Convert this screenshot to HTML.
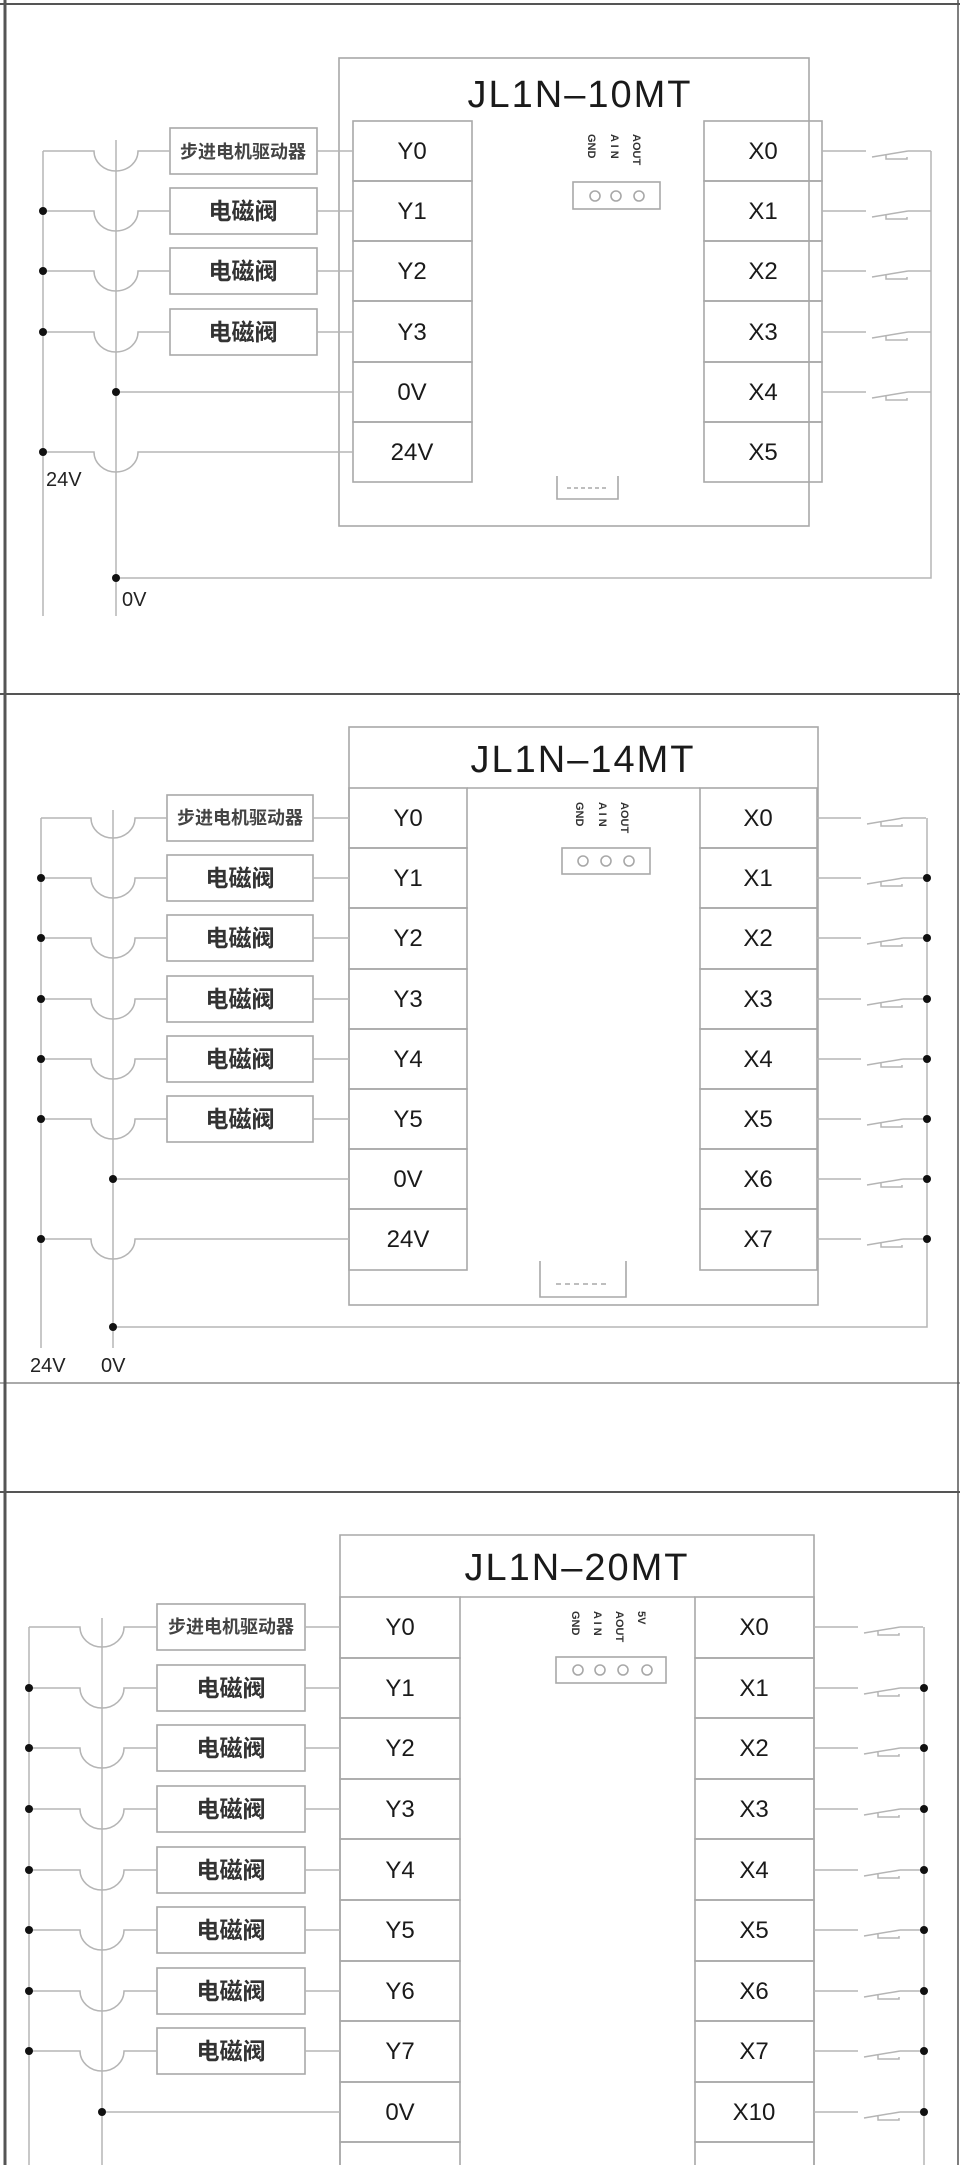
<!DOCTYPE html>
<html><head><meta charset="utf-8"><style>
html,body{margin:0;padding:0;background:#fff}
svg{display:block}
.w{stroke:#b5b5b5;stroke-width:1.5;fill:none}
.b{stroke:#a8a8a8;stroke-width:1.6;fill:none}
.k{stroke:#555;fill:none}
text{font-family:"Liberation Sans","Noto Sans CJK SC",sans-serif;fill:#1a1a1a}
.t{font-size:24px;text-anchor:middle}
.ti{font-size:38px;text-anchor:middle;letter-spacing:2px}
.c{font-size:23px;font-weight:bold;text-anchor:middle;fill:#333}
.cs{font-size:18px;font-weight:bold;text-anchor:middle;fill:#444}
.l{font-size:20px;fill:#222}
.r{font-size:11px;font-weight:bold;fill:#333}
</style></head><body>
<svg width="960" height="2165" viewBox="0 0 960 2165" xmlns="http://www.w3.org/2000/svg">
<defs>
<g id="sw"><path class="w" d="M0 0H44M50 6L86 0M64 4V8H85V6M86 0H109"/></g>
</defs>
<path class="k" stroke-width="3" d="M5 0V2165"/>
<path class="k" stroke-width="2" d="M0 4H960M0 694H960M0 1492H960"/>
<path class="k" stroke-width="1" d="M0 1383H960"/>
<path class="k" stroke-width="1.5" d="M958 0V2165"/>

<!-- ============ SECTION 1 ============ -->
<rect class="b" x="339" y="58" width="470" height="468"/>
<text class="ti" x="580" y="107">JL1N–10MT</text>
<g class="b">
<rect x="353" y="121" width="119" height="60"/><rect x="353" y="181" width="119" height="60"/><rect x="353" y="241" width="119" height="60"/><rect x="353" y="301" width="119" height="61"/><rect x="353" y="362" width="119" height="60"/><rect x="353" y="422" width="119" height="60"/>
<rect x="704" y="121" width="118" height="60"/><rect x="704" y="181" width="118" height="60"/><rect x="704" y="241" width="118" height="60"/><rect x="704" y="301" width="118" height="61"/><rect x="704" y="362" width="118" height="60"/><rect x="704" y="422" width="118" height="60"/>
</g>
<text class="t" x="412" y="159">Y0</text><text class="t" x="412" y="219">Y1</text><text class="t" x="412" y="279">Y2</text><text class="t" x="412" y="340">Y3</text><text class="t" x="412" y="400">0V</text><text class="t" x="412" y="460">24V</text>
<text class="t" x="763" y="159">X0</text><text class="t" x="763" y="219">X1</text><text class="t" x="763" y="279">X2</text><text class="t" x="763" y="340">X3</text><text class="t" x="763" y="400">X4</text><text class="t" x="763" y="460">X5</text>
<rect class="b" x="573" y="182" width="87" height="27"/>
<g class="b" stroke-width="1"><circle cx="595" cy="196" r="5"/><circle cx="616" cy="196" r="5"/><circle cx="639" cy="196" r="5"/></g>
<text class="r" transform="translate(588,134) rotate(90)">GND</text>
<text class="r" transform="translate(611,134) rotate(90)">A I N</text>
<text class="r" transform="translate(633,134) rotate(90)">AOUT</text>
<path class="b" d="M567 488H607" stroke-dasharray="4 3"/>
<path class="b" d="M557 476V499H618V476"/>
<g class="b"><rect x="170" y="128" width="147" height="46"/><rect x="170" y="188" width="147" height="46"/><rect x="170" y="248" width="147" height="46"/><rect x="170" y="309" width="147" height="46"/></g>
<text class="cs" x="243" y="158">步进电机驱动器</text>
<text class="c" x="243" y="219">电磁阀</text><text class="c" x="243" y="279">电磁阀</text><text class="c" x="243" y="340">电磁阀</text>
<path class="w" d="M43 151V616M116 140V616"/>
<path class="w" d="M43 151H94A22 20 0 0 0 138 151H170M317 151H353"/>
<path class="w" d="M43 211H94A22 20 0 0 0 138 211H170M317 211H353"/>
<path class="w" d="M43 271H94A22 20 0 0 0 138 271H170M317 271H353"/>
<path class="w" d="M43 332H94A22 20 0 0 0 138 332H170M317 332H353"/>
<path class="w" d="M116 392H353"/>
<path class="w" d="M43 452H94A22 20 0 0 0 138 452H353"/>
<path class="w" d="M116 578H931V151"/>
<use href="#sw" x="822" y="151"/><use href="#sw" x="822" y="211"/><use href="#sw" x="822" y="271"/><use href="#sw" x="822" y="332"/><use href="#sw" x="822" y="392"/>
<g fill="#111"><circle cx="43" cy="211" r="4"/><circle cx="43" cy="271" r="4"/><circle cx="43" cy="332" r="4"/><circle cx="43" cy="452" r="4"/><circle cx="116" cy="392" r="4"/><circle cx="116" cy="578" r="4"/></g>
<text class="l" x="46" y="486">24V</text>
<text class="l" x="122" y="606">0V</text>

<!-- ============ SECTION 2 ============ -->
<rect class="b" x="349" y="727" width="469" height="578"/>
<path class="b" d="M467 788H700" stroke-width="1"/>
<text class="ti" x="583" y="772">JL1N–14MT</text>
<g class="b">
<rect x="349" y="788" width="118" height="60"/><rect x="349" y="848" width="118" height="60"/><rect x="349" y="908" width="118" height="61"/><rect x="349" y="969" width="118" height="60"/><rect x="349" y="1029" width="118" height="60"/><rect x="349" y="1089" width="118" height="60"/><rect x="349" y="1149" width="118" height="60"/><rect x="349" y="1209" width="118" height="61"/>
<rect x="700" y="788" width="117" height="60"/><rect x="700" y="848" width="117" height="60"/><rect x="700" y="908" width="117" height="61"/><rect x="700" y="969" width="117" height="60"/><rect x="700" y="1029" width="117" height="60"/><rect x="700" y="1089" width="117" height="60"/><rect x="700" y="1149" width="117" height="60"/><rect x="700" y="1209" width="117" height="61"/>
</g>
<text class="t" x="408" y="826">Y0</text><text class="t" x="408" y="886">Y1</text><text class="t" x="408" y="946">Y2</text><text class="t" x="408" y="1007">Y3</text><text class="t" x="408" y="1067">Y4</text><text class="t" x="408" y="1127">Y5</text><text class="t" x="408" y="1187">0V</text><text class="t" x="408" y="1247">24V</text>
<text class="t" x="758" y="826">X0</text><text class="t" x="758" y="886">X1</text><text class="t" x="758" y="946">X2</text><text class="t" x="758" y="1007">X3</text><text class="t" x="758" y="1067">X4</text><text class="t" x="758" y="1127">X5</text><text class="t" x="758" y="1187">X6</text><text class="t" x="758" y="1247">X7</text>
<rect class="b" x="562" y="848" width="88" height="26"/>
<g class="b" stroke-width="1"><circle cx="583" cy="861" r="5"/><circle cx="606" cy="861" r="5"/><circle cx="629" cy="861" r="5"/></g>
<text class="r" transform="translate(576,802) rotate(90)">GND</text>
<text class="r" transform="translate(599,802) rotate(90)">A I N</text>
<text class="r" transform="translate(621,802) rotate(90)">AOUT</text>
<path class="b" d="M540 1261V1297H626V1261"/>
<path class="b" d="M556 1284H610" stroke-dasharray="5 4"/>
<g class="b"><rect x="167" y="795" width="146" height="46"/><rect x="167" y="855" width="146" height="46"/><rect x="167" y="915" width="146" height="46"/><rect x="167" y="976" width="146" height="46"/><rect x="167" y="1036" width="146" height="46"/><rect x="167" y="1096" width="146" height="46"/></g>
<text class="cs" x="240" y="824">步进电机驱动器</text>
<text class="c" x="240" y="886">电磁阀</text><text class="c" x="240" y="946">电磁阀</text><text class="c" x="240" y="1007">电磁阀</text><text class="c" x="240" y="1067">电磁阀</text><text class="c" x="240" y="1127">电磁阀</text>
<path class="w" d="M41 818V1348M113 810V1348"/>
<path class="w" d="M41 818H91A22 20 0 0 0 135 818H167M313 818H349"/>
<path class="w" d="M41 878H91A22 20 0 0 0 135 878H167M313 878H349"/>
<path class="w" d="M41 938H91A22 20 0 0 0 135 938H167M313 938H349"/>
<path class="w" d="M41 999H91A22 20 0 0 0 135 999H167M313 999H349"/>
<path class="w" d="M41 1059H91A22 20 0 0 0 135 1059H167M313 1059H349"/>
<path class="w" d="M41 1119H91A22 20 0 0 0 135 1119H167M313 1119H349"/>
<path class="w" d="M113 1179H349"/>
<path class="w" d="M41 1239H91A22 20 0 0 0 135 1239H349"/>
<path class="w" d="M113 1327H927V818"/>
<use href="#sw" x="817" y="818"/><use href="#sw" x="817" y="878"/><use href="#sw" x="817" y="938"/><use href="#sw" x="817" y="999"/><use href="#sw" x="817" y="1059"/><use href="#sw" x="817" y="1119"/><use href="#sw" x="817" y="1179"/><use href="#sw" x="817" y="1239"/>
<g fill="#111"><circle cx="41" cy="878" r="4"/><circle cx="41" cy="938" r="4"/><circle cx="41" cy="999" r="4"/><circle cx="41" cy="1059" r="4"/><circle cx="41" cy="1119" r="4"/><circle cx="41" cy="1239" r="4"/><circle cx="113" cy="1179" r="4"/><circle cx="113" cy="1327" r="4"/>
<circle cx="927" cy="878" r="4"/><circle cx="927" cy="938" r="4"/><circle cx="927" cy="999" r="4"/><circle cx="927" cy="1059" r="4"/><circle cx="927" cy="1119" r="4"/><circle cx="927" cy="1179" r="4"/><circle cx="927" cy="1239" r="4"/></g>
<text class="l" x="30" y="1372">24V</text>
<text class="l" x="101" y="1372">0V</text>

<!-- ============ SECTION 3 ============ -->
<path class="b" d="M340 2165V1535H814V2165"/>
<path class="b" d="M460 1597H695" stroke-width="1"/>
<text class="ti" x="577" y="1580">JL1N–20MT</text>
<g class="b">
<rect x="340" y="1597" width="120" height="61"/><rect x="340" y="1658" width="120" height="60"/><rect x="340" y="1718" width="120" height="61"/><rect x="340" y="1779" width="120" height="60"/><rect x="340" y="1839" width="120" height="61"/><rect x="340" y="1900" width="120" height="61"/><rect x="340" y="1961" width="120" height="60"/><rect x="340" y="2021" width="120" height="61"/><rect x="340" y="2082" width="120" height="60"/><rect x="340" y="2142" width="120" height="40"/>
<rect x="695" y="1597" width="119" height="61"/><rect x="695" y="1658" width="119" height="60"/><rect x="695" y="1718" width="119" height="61"/><rect x="695" y="1779" width="119" height="60"/><rect x="695" y="1839" width="119" height="61"/><rect x="695" y="1900" width="119" height="61"/><rect x="695" y="1961" width="119" height="60"/><rect x="695" y="2021" width="119" height="61"/><rect x="695" y="2082" width="119" height="60"/><rect x="695" y="2142" width="119" height="40"/>
</g>
<text class="t" x="400" y="1635">Y0</text><text class="t" x="400" y="1696">Y1</text><text class="t" x="400" y="1756">Y2</text><text class="t" x="400" y="1817">Y3</text><text class="t" x="400" y="1878">Y4</text><text class="t" x="400" y="1938">Y5</text><text class="t" x="400" y="1999">Y6</text><text class="t" x="400" y="2059">Y7</text><text class="t" x="400" y="2120">0V</text>
<text class="t" x="754" y="1635">X0</text><text class="t" x="754" y="1696">X1</text><text class="t" x="754" y="1756">X2</text><text class="t" x="754" y="1817">X3</text><text class="t" x="754" y="1878">X4</text><text class="t" x="754" y="1938">X5</text><text class="t" x="754" y="1999">X6</text><text class="t" x="754" y="2059">X7</text><text class="t" x="754" y="2120">X10</text>
<rect class="b" x="556" y="1657" width="110" height="26"/>
<g class="b" stroke-width="1"><circle cx="578" cy="1670" r="5"/><circle cx="600" cy="1670" r="5"/><circle cx="623" cy="1670" r="5"/><circle cx="647" cy="1670" r="5"/></g>
<text class="r" transform="translate(572,1611) rotate(90)">GND</text>
<text class="r" transform="translate(594,1611) rotate(90)">A I N</text>
<text class="r" transform="translate(616,1611) rotate(90)">AOUT</text>
<text class="r" transform="translate(638,1611) rotate(90)">5V</text>
<g class="b"><rect x="157" y="1604" width="148" height="46"/><rect x="157" y="1665" width="148" height="46"/><rect x="157" y="1725" width="148" height="46"/><rect x="157" y="1786" width="148" height="46"/><rect x="157" y="1847" width="148" height="46"/><rect x="157" y="1907" width="148" height="46"/><rect x="157" y="1968" width="148" height="46"/><rect x="157" y="2028" width="148" height="46"/></g>
<text class="cs" x="231" y="1633">步进电机驱动器</text>
<text class="c" x="231" y="1696">电磁阀</text><text class="c" x="231" y="1756">电磁阀</text><text class="c" x="231" y="1817">电磁阀</text><text class="c" x="231" y="1878">电磁阀</text><text class="c" x="231" y="1938">电磁阀</text><text class="c" x="231" y="1999">电磁阀</text><text class="c" x="231" y="2059">电磁阀</text>
<path class="w" d="M29 1627V2165M102 1618V2165"/>
<path class="w" d="M29 1627H80A22 20 0 0 0 124 1627H157M305 1627H340"/>
<path class="w" d="M29 1688H80A22 20 0 0 0 124 1688H157M305 1688H340"/>
<path class="w" d="M29 1748H80A22 20 0 0 0 124 1748H157M305 1748H340"/>
<path class="w" d="M29 1809H80A22 20 0 0 0 124 1809H157M305 1809H340"/>
<path class="w" d="M29 1870H80A22 20 0 0 0 124 1870H157M305 1870H340"/>
<path class="w" d="M29 1930H80A22 20 0 0 0 124 1930H157M305 1930H340"/>
<path class="w" d="M29 1991H80A22 20 0 0 0 124 1991H157M305 1991H340"/>
<path class="w" d="M29 2051H80A22 20 0 0 0 124 2051H157M305 2051H340"/>
<path class="w" d="M102 2112H340"/>
<path class="w" d="M924 1627V2165"/>
<use href="#sw" x="814" y="1627"/><use href="#sw" x="814" y="1688"/><use href="#sw" x="814" y="1748"/><use href="#sw" x="814" y="1809"/><use href="#sw" x="814" y="1870"/><use href="#sw" x="814" y="1930"/><use href="#sw" x="814" y="1991"/><use href="#sw" x="814" y="2051"/><use href="#sw" x="814" y="2112"/>
<g fill="#111"><circle cx="29" cy="1688" r="4"/><circle cx="29" cy="1748" r="4"/><circle cx="29" cy="1809" r="4"/><circle cx="29" cy="1870" r="4"/><circle cx="29" cy="1930" r="4"/><circle cx="29" cy="1991" r="4"/><circle cx="29" cy="2051" r="4"/><circle cx="102" cy="2112" r="4"/>
<circle cx="924" cy="1688" r="4"/><circle cx="924" cy="1748" r="4"/><circle cx="924" cy="1809" r="4"/><circle cx="924" cy="1870" r="4"/><circle cx="924" cy="1930" r="4"/><circle cx="924" cy="1991" r="4"/><circle cx="924" cy="2051" r="4"/><circle cx="924" cy="2112" r="4"/></g>
</svg>
</body></html>
